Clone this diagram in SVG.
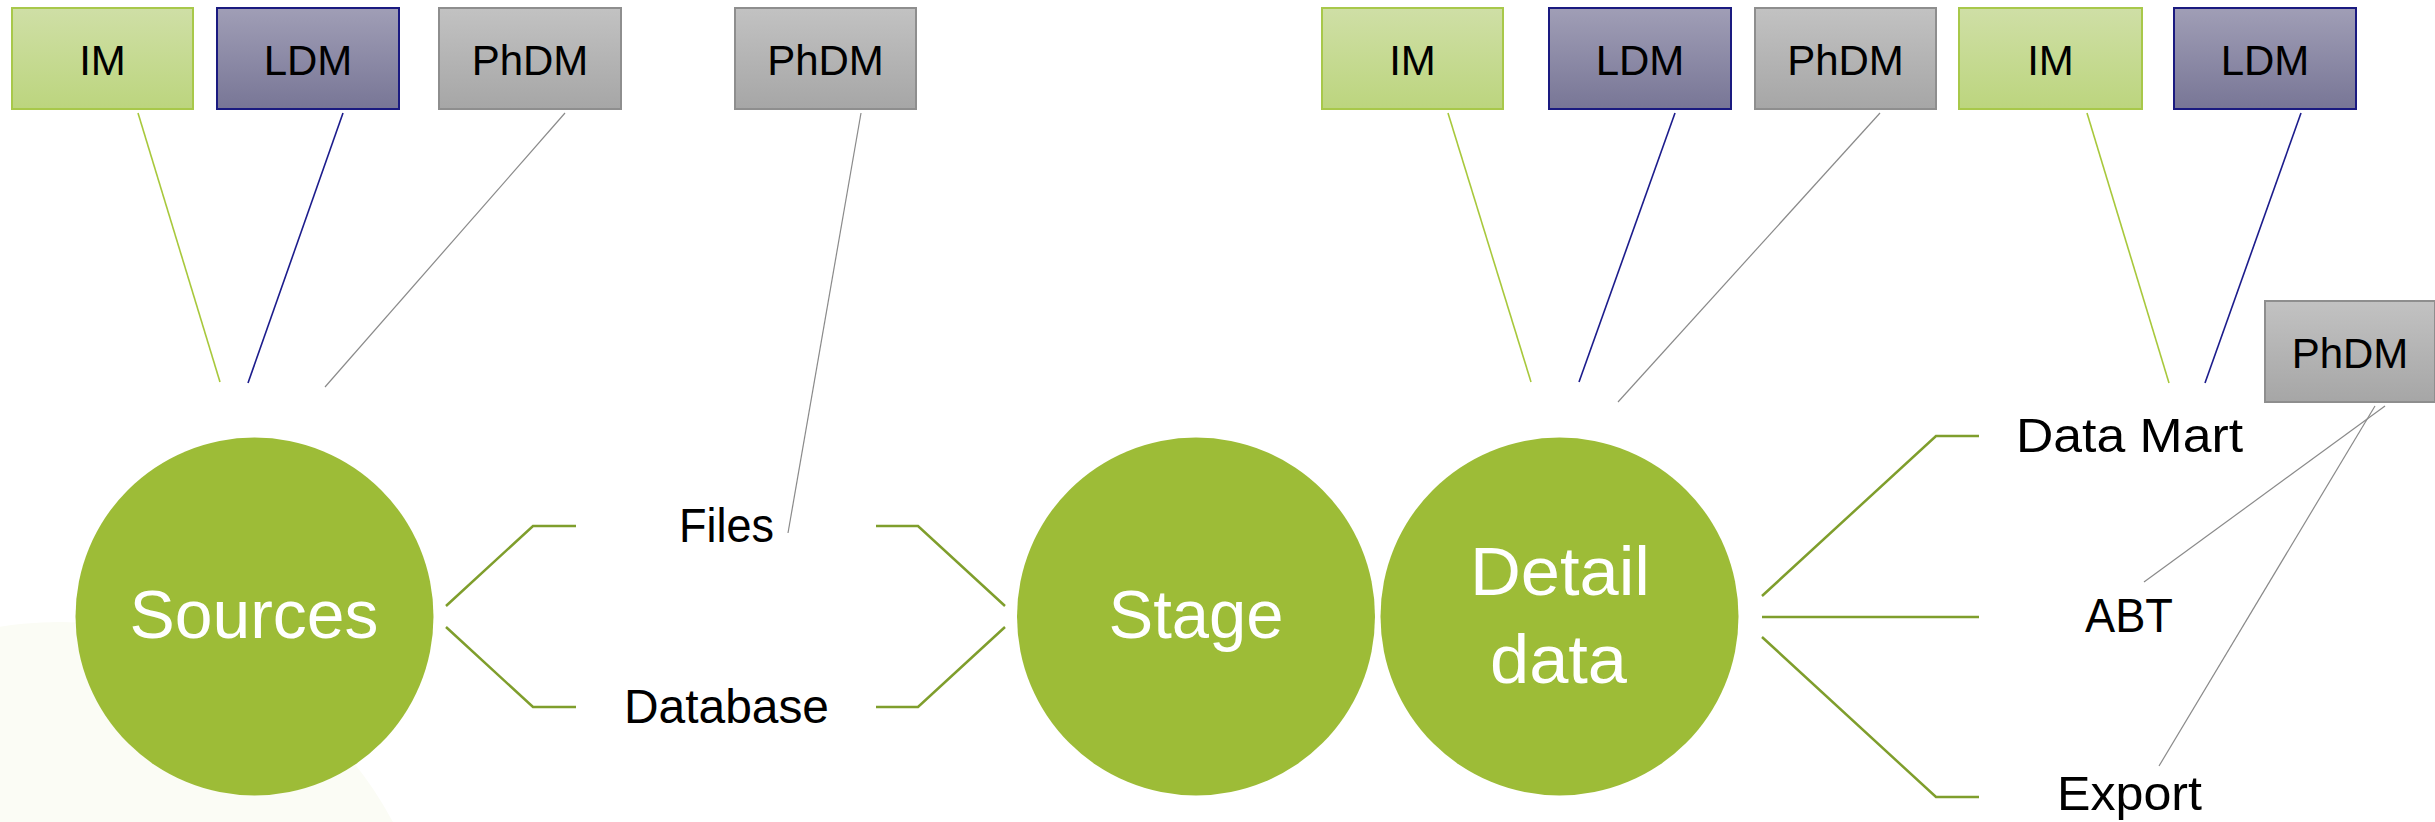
<svg xmlns="http://www.w3.org/2000/svg" width="2435" height="822" viewBox="0 0 2435 822">
  <defs>
    <linearGradient id="gIM" x1="0" y1="0" x2="0" y2="1">
      <stop offset="0" stop-color="#cfdfa6"/>
      <stop offset="1" stop-color="#bcd57e"/>
    </linearGradient>
    <linearGradient id="gLDM" x1="0" y1="0" x2="0" y2="1">
      <stop offset="0" stop-color="#a09eb6"/>
      <stop offset="1" stop-color="#787696"/>
    </linearGradient>
    <linearGradient id="gPhDM" x1="0" y1="0" x2="0" y2="1">
      <stop offset="0" stop-color="#c2c2c2"/>
      <stop offset="1" stop-color="#a6a6a6"/>
    </linearGradient>
  </defs>
  <style>
    .im rect { fill: url(#gIM); stroke: #a8c84a; stroke-width: 2; }
    .ldm rect { fill: url(#gLDM); stroke: #1a1a80; stroke-width: 2; }
    .phdm rect { fill: url(#gPhDM); stroke: #8e8e8e; stroke-width: 2; }
    .box text { font-family: "Liberation Sans", Arial, sans-serif; font-size: 42px; fill: #000; text-anchor: middle; }
    .hub circle { fill: #9dbc37; }
    .hub text { font-family: "Liberation Sans", Arial, sans-serif; font-size: 69px; fill: #fff; text-anchor: middle; }
    .label text { font-family: "Liberation Sans", Arial, sans-serif; font-size: 48px; fill: #000; text-anchor: middle; }
    .flow { fill: none; stroke: #7f9e2c; stroke-width: 2.5; }
    .l-im { stroke: #a8c83c; stroke-width: 1.6; }
    .l-ldm { stroke: #1c1c8c; stroke-width: 1.6; }
    .l-ph { stroke: #8a8a8a; stroke-width: 1.2; }
  </style>

  <!-- soft backdrop in the lower-left corner -->
  <circle cx="60" cy="999" r="377" fill="#fbfcf5"/>

  <g id="connectors">
    <!-- model boxes to their subjects -->
    <line class="l-im" x1="138" y1="113" x2="220" y2="382"/>
    <line class="l-ldm" x1="343" y1="113" x2="248" y2="383"/>
    <line class="l-ph" x1="565" y1="113" x2="325" y2="387"/>
    <line class="l-ph" x1="861" y1="113" x2="788" y2="533"/>
    <line class="l-im" x1="1448" y1="113" x2="1531" y2="382"/>
    <line class="l-ldm" x1="1675" y1="113" x2="1579" y2="382"/>
    <line class="l-ph" x1="1880" y1="113" x2="1618" y2="402"/>
    <line class="l-im" x1="2087" y1="113" x2="2169" y2="383"/>
    <line class="l-ldm" x1="2301" y1="113" x2="2205" y2="383"/>
    <line class="l-ph" x1="2385" y1="406" x2="2144" y2="582"/>
    <line class="l-ph" x1="2375" y1="406" x2="2159" y2="766"/>

    <!-- Sources to Files / Database -->
    <polyline class="flow" points="446,606 533,526 576,526"/>
    <polyline class="flow" points="446,627 533,707 576,707"/>
    <!-- Files / Database to Stage -->
    <polyline class="flow" points="876,526 918,526 1005,606"/>
    <polyline class="flow" points="876,707 918,707 1005,627"/>
    <!-- Detail data to outputs -->
    <polyline class="flow" points="1762,596 1936,436 1979,436"/>
    <polyline class="flow" points="1762,617 1979,617"/>
    <polyline class="flow" points="1762,637 1936,797 1979,797"/>
  </g>

  <g id="box-im-1" class="box im"><rect x="12" y="8" width="181" height="101"/><text x="102.5" y="75">IM</text></g>
  <g id="box-ldm-1" class="box ldm"><rect x="217" y="8" width="182" height="101"/><text x="308" y="75">LDM</text></g>
  <g id="box-phdm-1" class="box phdm"><rect x="439" y="8" width="182" height="101"/><text x="530" y="75">PhDM</text></g>
  <g id="box-phdm-2" class="box phdm"><rect x="735" y="8" width="181" height="101"/><text x="825.5" y="75">PhDM</text></g>
  <g id="box-im-2" class="box im"><rect x="1322" y="8" width="181" height="101"/><text x="1412.5" y="75">IM</text></g>
  <g id="box-ldm-2" class="box ldm"><rect x="1549" y="8" width="182" height="101"/><text x="1640" y="75">LDM</text></g>
  <g id="box-phdm-3" class="box phdm"><rect x="1755" y="8" width="181" height="101"/><text x="1845.5" y="75">PhDM</text></g>
  <g id="box-im-3" class="box im"><rect x="1959" y="8" width="183" height="101"/><text x="2050.5" y="75">IM</text></g>
  <g id="box-ldm-3" class="box ldm"><rect x="2174" y="8" width="182" height="101"/><text x="2265" y="75">LDM</text></g>
  <g id="box-phdm-4" class="box phdm"><rect x="2265" y="301" width="170" height="101"/><text x="2350" y="368">PhDM</text></g>

  <g id="hub-sources" class="hub"><circle cx="254.5" cy="616.5" r="179"/><text x="254" y="638" textLength="249" lengthAdjust="spacingAndGlyphs">Sources</text></g>
  <g id="hub-stage" class="hub"><circle cx="1196" cy="616.5" r="179"/><text x="1196" y="638" textLength="175" lengthAdjust="spacingAndGlyphs">Stage</text></g>
  <g id="hub-detail" class="hub"><circle cx="1559.5" cy="616.5" r="179"/><text x="1560" y="595" textLength="180" lengthAdjust="spacingAndGlyphs">Detail</text><text x="1558.5" y="683" textLength="137" lengthAdjust="spacingAndGlyphs">data</text></g>

  <g id="label-files" class="label"><text x="726.5" y="542" textLength="95" lengthAdjust="spacingAndGlyphs">Files</text></g>
  <g id="label-database" class="label"><text x="726.5" y="723" textLength="205" lengthAdjust="spacingAndGlyphs">Database</text></g>
  <g id="label-datamart" class="label"><text x="2129.5" y="452" textLength="227" lengthAdjust="spacingAndGlyphs">Data Mart</text></g>
  <g id="label-abt" class="label"><text x="2129" y="632" textLength="88" lengthAdjust="spacingAndGlyphs">ABT</text></g>
  <g id="label-export" class="label"><text x="2129.5" y="810" textLength="145" lengthAdjust="spacingAndGlyphs">Export</text></g>
</svg>
